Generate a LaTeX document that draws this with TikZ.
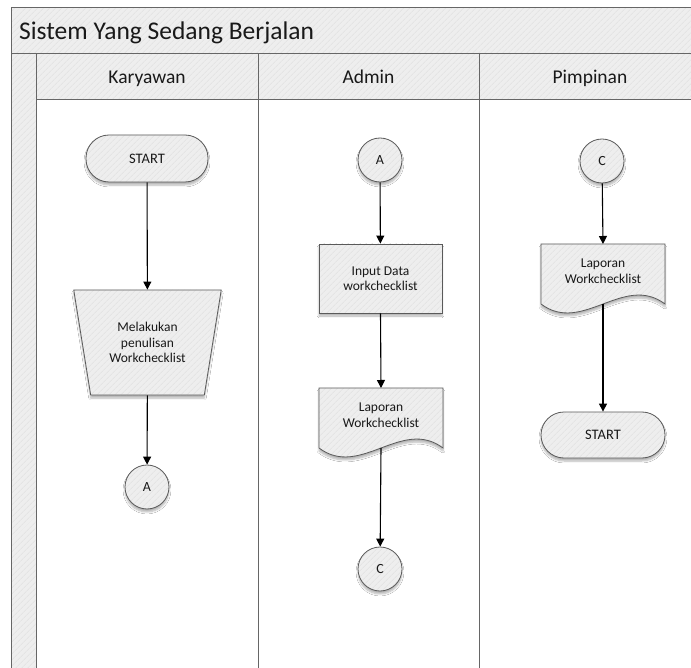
\documentclass[tikz,border=0pt]{standalone}
\usepackage{fontspec}
\setmainfont{Carlito}
\usetikzlibrary{arrows.meta,shapes.geometric,shadows.blur,patterns.meta}

\definecolor{shapefill}{HTML}{EEEEEE}
\definecolor{hatch}{HTML}{E4E4E4}
\definecolor{edge}{HTML}{5A5A5A}
\definecolor{framecol}{HTML}{666666}

\tikzset{
  hatched/.style={preaction={fill=shapefill},
    preaction={pattern={Lines[angle=45,distance=4pt,line width=1pt]}, pattern color=hatch}},
  shadowed/.style={blur shadow={shadow xshift=0pt, shadow yshift=-3pt,
    shadow opacity=30, shadow blur steps=6}},
  shp/.style={shadowed, hatched, draw=edge, line width=0.8pt,
    font=\fontsize{13.5}{15.5}\selectfont, align=center, text=black!90, inner sep=0pt},
  terminal/.style={shp, rectangle, rounded corners=23pt,
    minimum width=122pt, minimum height=47pt, font=\fontsize{14.5}{16}\selectfont},
  connector/.style={shp, circle, minimum size=44pt, font=\fontsize{14}{16}\selectfont},
  process/.style={shp, rectangle, minimum width=123pt, minimum height=69pt},
  manualin/.style={shp, trapezium, trapezium left angle=74.3, trapezium right angle=74.3,
    shape border rotate=180, trapezium stretches=true,
    minimum width=149pt, minimum height=105pt},
  frameline/.style={draw=framecol, line width=1pt},
  flow/.style={draw=black, line width=1.1pt, -{Triangle[length=8pt,width=8pt]}},
  lanehead/.style={anchor=base, font=\fontsize{19.5}{22}\selectfont, text=black!90},
  docu/.pic={
    \path[shp] (-62,0) -- (62,0) -- (62,60)
      .. controls (20.7,29) and (-20.7,91) .. (-62,60) -- cycle;
    \node[font=\fontsize{13.5}{15.5}\selectfont, align=center, text=black!90]
      (-text) at (0,27) {#1};
    \coordinate (-top) at (0,0);
    \coordinate (-bot) at (0,60);
  }
}

\begin{document}
\begin{tikzpicture}[x=1pt, y=-1pt]
\useasboundingbox (0,0) rectangle (691,668);
\clip (0,0) rectangle (691,668);

% pool: title band, lane header band, left strip
\path[hatched] (11,8) rectangle (720,54);
\path[blur shadow={shadow xshift=0pt, shadow yshift=-2pt, shadow opacity=25}, hatched] (36,54) rectangle (720,100);
\path[hatched] (11,54) rectangle (36,700);
\path[fill=white] (36,100) rectangle (720,700);
\draw[frameline] (11,8) rectangle (720,700);
\draw[frameline] (11,54) -- (720,54);
\draw[frameline] (36,54) -- (36,700);
\draw[frameline] (36,100) -- (720,100);
\draw[frameline] (258,54) -- (258,700);
\draw[frameline] (479,54) -- (479,700);

\node[anchor=base west, inner sep=0pt, font=\fontsize{25.5}{30}\selectfont, text=black!90] (title) at (19,39.5) {Sistem Yang Sedang Berjalan};
\node[lanehead] (hK) at (147,84) {Karyawan};
\node[lanehead] (hA) at (368.5,84) {Admin};
\node[lanehead] (hP) at (590,84) {Pimpinan};

% Karyawan
\node[terminal] (startK) at (147,158.5) {START};
\node[manualin] (tulis) at (147.5,342.5) {Melakukan\\penulisan\\Workchecklist};
\node[connector] (aK) at (147,487) {A};

% Admin
\node[connector] (aA) at (380,160) {A};
\node[process] (input) at (380.5,278.5) {Input Data\\workchecklist};
\pic (docA) at (381,388) {docu={Laporan\\Workchecklist}};
\node[connector] (cA) at (380,569) {C};

% Pimpinan
\node[connector] (cP) at (602,161) {C};
\pic (docP) at (603,244) {docu={Laporan\\Workchecklist}};
\node[terminal, minimum width=124pt, minimum height=46pt] (endP) at (603,435) {START};

% flow
\draw[flow] (startK) -- (tulis);
\draw[flow] (tulis) -- (aK);
\draw[flow] (aA) -- (input);
\draw[flow] (input.south) -- (docA-top);
\draw[flow] (docA-bot) -- (cA);
\draw[flow] (cP) -- (docP-top);
\draw[flow] (docP-bot) -- (endP);
\end{tikzpicture}
\end{document}
